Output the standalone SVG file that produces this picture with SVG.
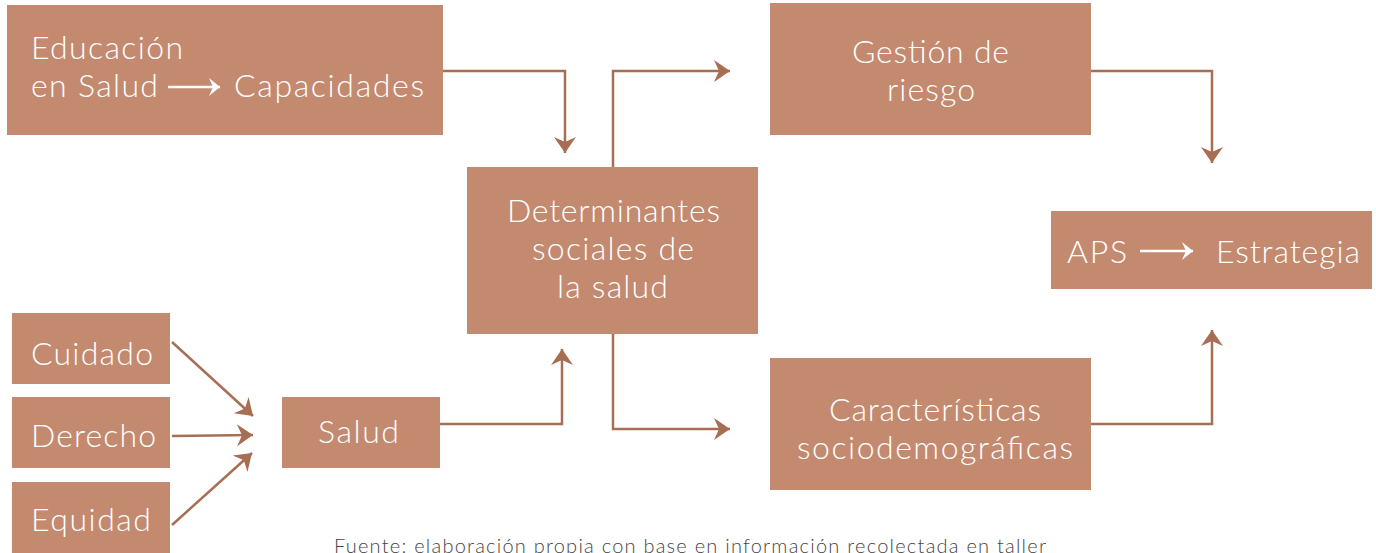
<svg xmlns="http://www.w3.org/2000/svg" width="1376" height="553" viewBox="0 0 1376 553">
<style>
.box{fill:#C48A6F}
.t{font-family:Lato,"Open Sans","Liberation Sans",sans-serif;font-weight:300;font-size:32px;fill:#ffffff}
.conn{fill:none;stroke:#A86E54;stroke-width:2.5}
.warr{fill:none;stroke:#ffffff;stroke-width:2.5}
.foot{font-family:Lato,"Open Sans","Liberation Sans",sans-serif;font-weight:300;font-size:20px;fill:#444444}
</style>
<defs>
<marker id="ah" markerUnits="userSpaceOnUse" markerWidth="24" markerHeight="24" viewBox="0 0 24 24" refX="20" refY="12" orient="auto">
<path d="M4,1 L20,12 L4,23 L9,12 z" fill="#A86E54"/>
</marker>
<marker id="wh" markerUnits="userSpaceOnUse" markerWidth="20" markerHeight="20" viewBox="0 0 20 20" refX="16" refY="10" orient="auto">
<path d="M5,1 L16,10 L5,19 L9,10 z" fill="#ffffff"/>
</marker>
</defs>
<g id="connectors">
<path class="conn" d="M443,71 H565 V153" marker-end="url(#ah)"/>
<path class="conn" d="M613,167 V71 H730" marker-end="url(#ah)"/>
<path class="conn" d="M1091,71 H1212 V163" marker-end="url(#ah)"/>
<path class="conn" d="M1091,424 H1212 V330" marker-end="url(#ah)"/>
<path class="conn" d="M613,334 V429 H730" marker-end="url(#ah)"/>
<path class="conn" d="M440,424 H562 V349" marker-end="url(#ah)"/>
<path class="conn" d="M172,342 L253,416" marker-end="url(#ah)"/>
<path class="conn" d="M172,436 L253,435" marker-end="url(#ah)"/>
<path class="conn" d="M172,525 L252,453" marker-end="url(#ah)"/>
</g>
<g id="educacion">
<rect class="box" x="7" y="5" width="436" height="130"/>
<text class="t" x="31" y="59" textLength="152" lengthAdjust="spacing">Educación</text>
<text class="t" x="31" y="97" textLength="127" lengthAdjust="spacing">en Salud</text>
<path class="warr" d="M168,87 H220" marker-end="url(#wh)"/>
<text class="t" x="234" y="97" textLength="190" lengthAdjust="spacing">Capacidades</text>
</g>
<g id="gestion">
<rect class="box" x="770" y="3" width="321" height="132"/>
<text class="t" x="852" y="63" textLength="157" lengthAdjust="spacing">Gestión de</text>
<text class="t" x="887" y="101" textLength="88" lengthAdjust="spacing">riesgo</text>
</g>
<g id="determinantes">
<rect class="box" x="467" y="167" width="291" height="167"/>
<text class="t" x="507" y="222" textLength="213" lengthAdjust="spacing">Determinantes</text>
<text class="t" x="532" y="260" textLength="162" lengthAdjust="spacing">sociales de</text>
<text class="t" x="557" y="298" textLength="111" lengthAdjust="spacing">la salud</text>
</g>
<g id="aps">
<rect class="box" x="1051" y="211" width="321" height="78"/>
<text class="t" x="1067" y="263" textLength="60" lengthAdjust="spacing">APS</text>
<path class="warr" d="M1140,251 H1193" marker-end="url(#wh)"/>
<text class="t" x="1216" y="263" textLength="144" lengthAdjust="spacing">Estrategia</text>
</g>
<g id="caracteristicas">
<rect class="box" x="770" y="358" width="321" height="132"/>
<text class="t" x="829" y="421" textLength="212" lengthAdjust="spacing">Características</text>
<text class="t" x="797" y="459" textLength="276" lengthAdjust="spacing">sociodemográficas</text>
</g>
<g id="cuidado">
<rect class="box" x="12" y="313" width="158" height="71"/>
<text class="t" x="31" y="365" textLength="122" lengthAdjust="spacing">Cuidado</text>
</g>
<g id="derecho">
<rect class="box" x="12" y="397" width="158" height="71"/>
<text class="t" x="31" y="447" textLength="125" lengthAdjust="spacing">Derecho</text>
</g>
<g id="equidad">
<rect class="box" x="12" y="482" width="158" height="71"/>
<text class="t" x="31" y="531" textLength="120" lengthAdjust="spacing">Equidad</text>
</g>
<g id="salud">
<rect class="box" x="282" y="397" width="158" height="71"/>
<text class="t" x="318" y="443" textLength="81" lengthAdjust="spacing">Salud</text>
</g>
<text class="foot" x="334" y="553" textLength="712" lengthAdjust="spacing">Fuente: elaboración propia con base en información recolectada en taller</text>
</svg>
